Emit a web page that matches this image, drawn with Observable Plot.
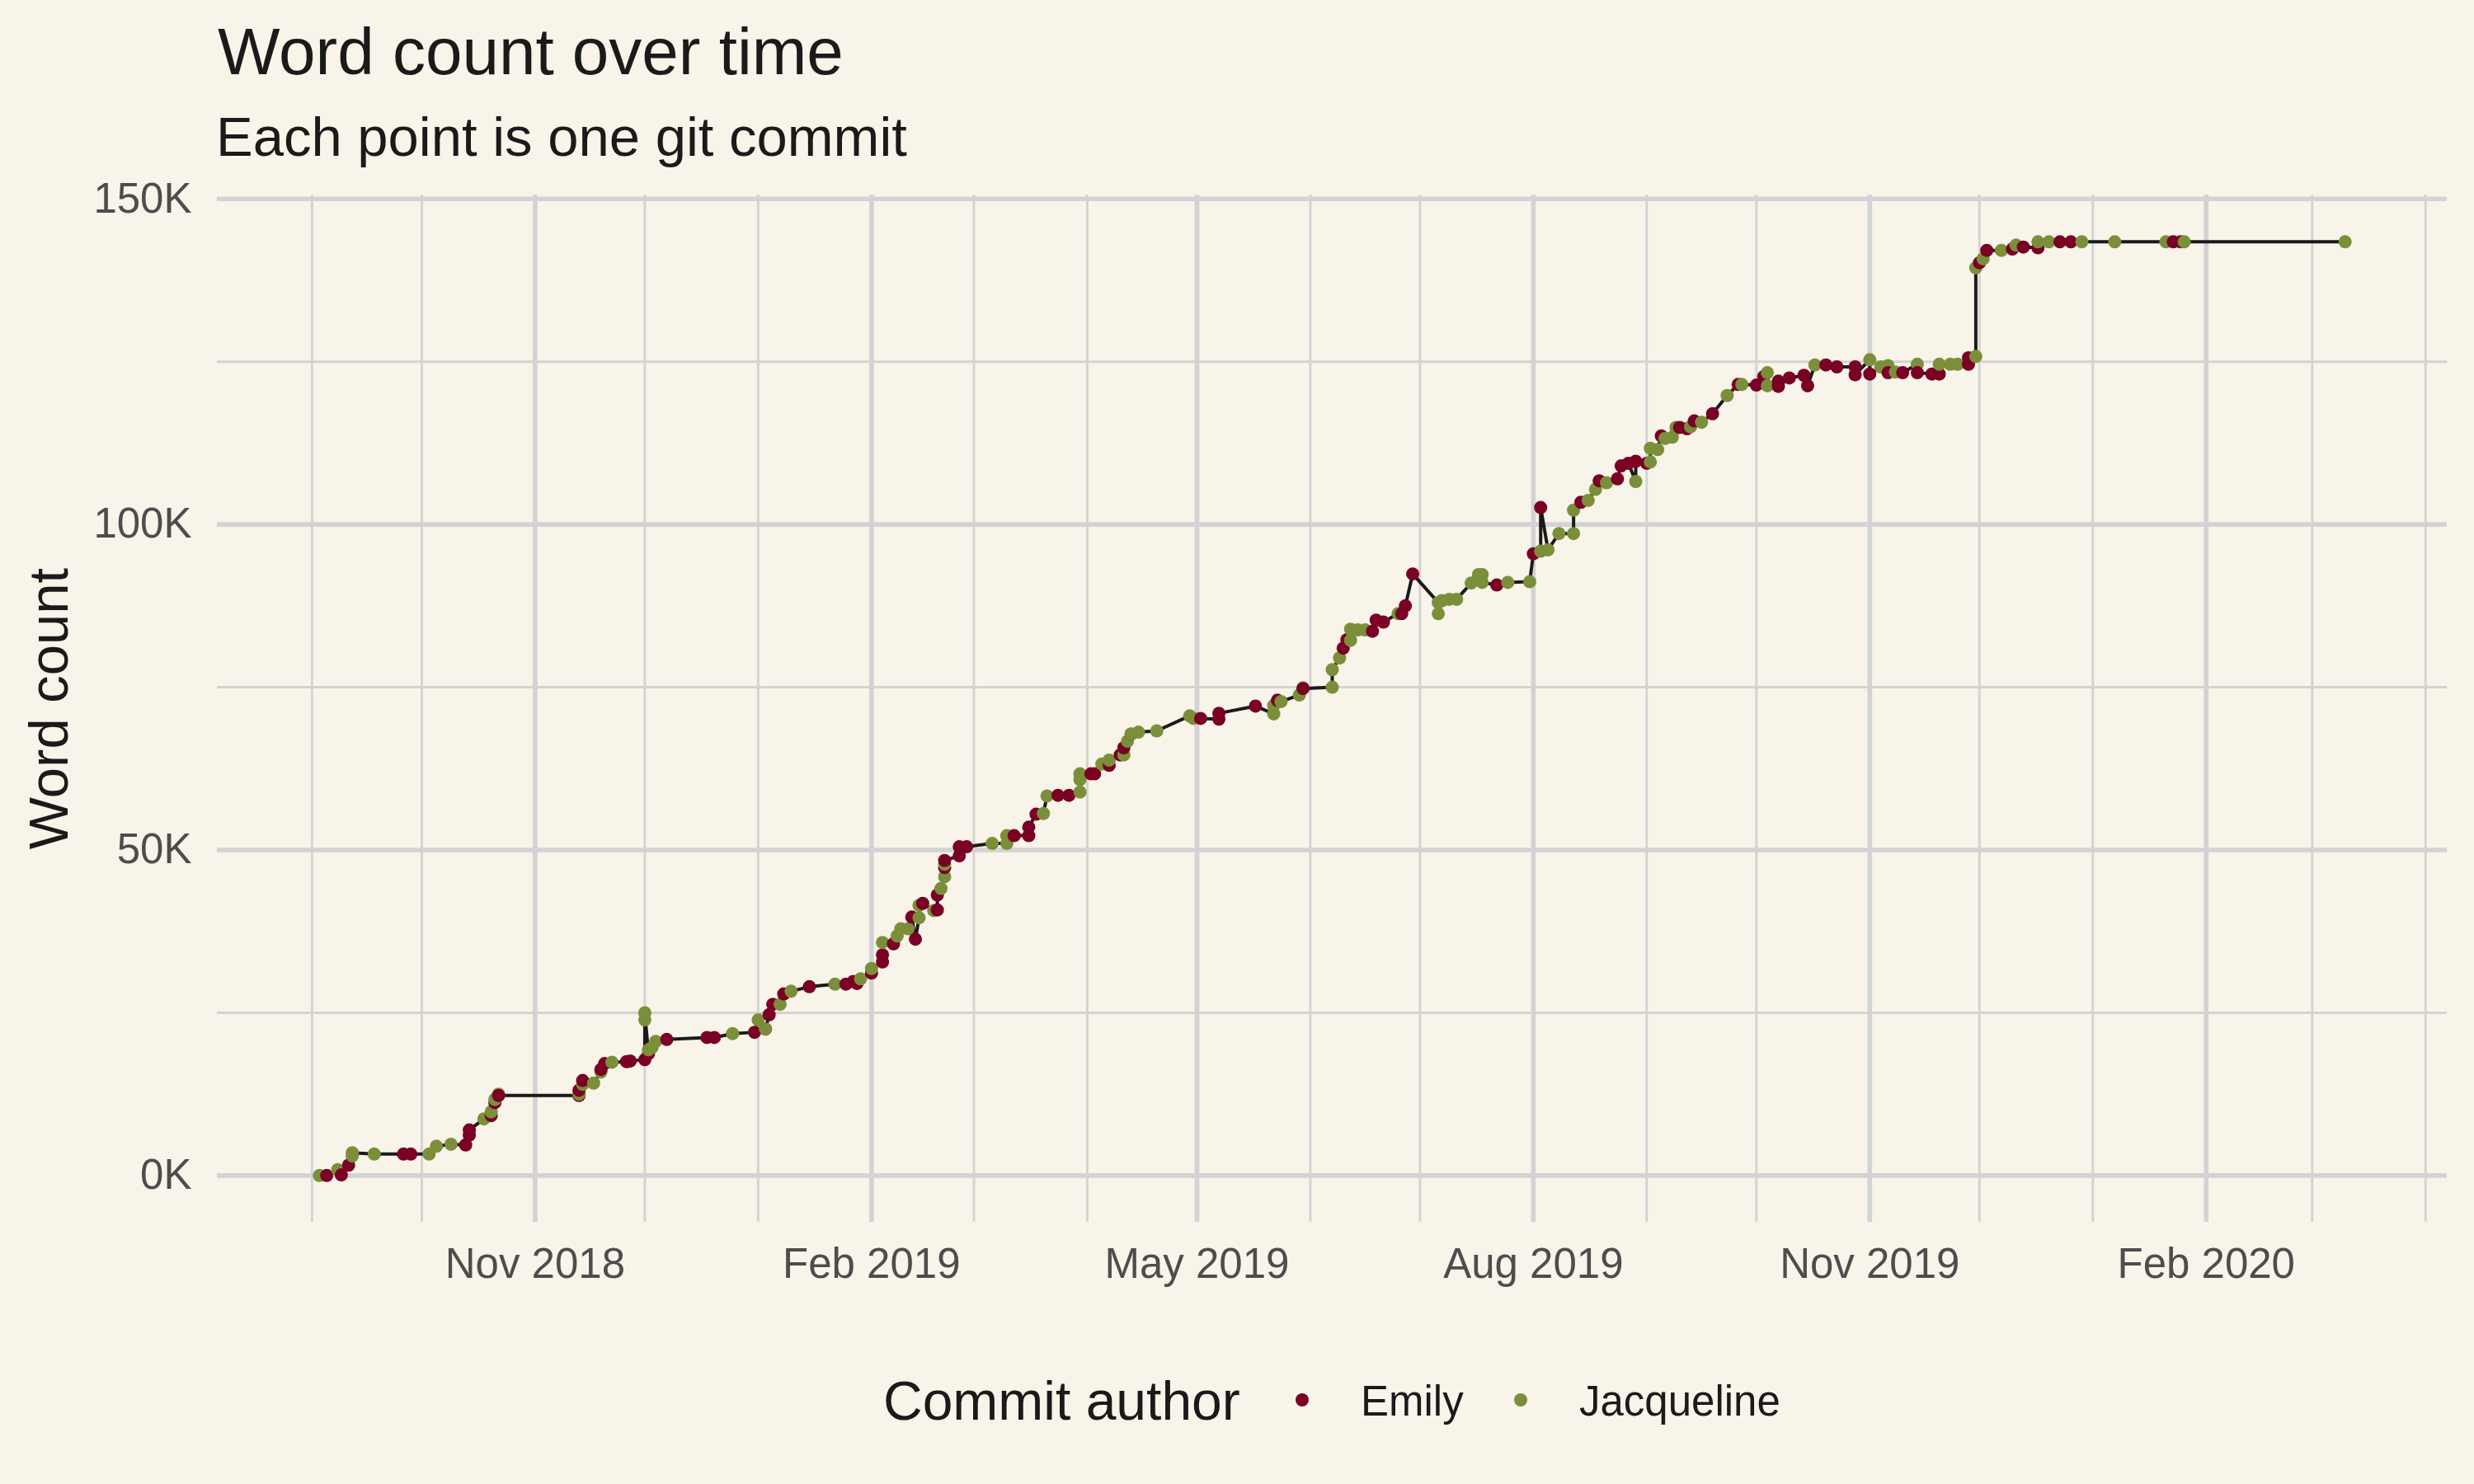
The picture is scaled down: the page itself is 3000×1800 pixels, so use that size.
<!DOCTYPE html>
<html>
<head>
<meta charset="utf-8">
<script src="https://cdn.jsdelivr.net/npm/d3@7"></script>
<script src="https://cdn.jsdelivr.net/npm/@observablehq/plot@0.6"></script>
<style>
  html, body { margin: 0; padding: 0; background: #F8F4EA; }
  #root { position: relative; width: 3000px; height: 1800px; background: #F8F4EA;
          font-family: "Liberation Sans", Arial, sans-serif; overflow: hidden; }
  #header { position: relative; width: 3000px; height: 200px; }
  .title { position: absolute; left: 264px; top: 23px; font-size: 80px; line-height: 80px;
           color: #1A1A1A; white-space: nowrap; }
  .subtitle { position: absolute; left: 262px; top: 132px; font-size: 67px; line-height: 67px;
              color: #1A1A1A; white-space: nowrap; }
  #chart, #legend { display: block; width: 3000px; }
  #chart svg, #legend svg { display: block; }
</style>
</head>
<body>
<div id="root">
  <div id="header">
    <div class="title">Word count over time</div>
    <div class="subtitle">Each point is one git commit</div>
  </div>
  <div id="chart"></div>
  <div id="legend"></div>
</div>
<script>
// ---- data (one entry per git commit, in commit order) ----
const commitDates = [
  "2018-09-03","2018-09-05","2018-09-08","2018-09-09","2018-09-11","2018-09-12","2018-09-12","2018-09-18","2018-09-26","2018-09-28",
  "2018-10-03","2018-10-05","2018-10-09","2018-10-13","2018-10-14","2018-10-14","2018-10-18","2018-10-20","2018-10-20","2018-10-21",
  "2018-10-21","2018-10-22","2018-10-22","2018-11-13","2018-11-13","2018-11-13","2018-11-14","2018-11-14","2018-11-17","2018-11-19",
  "2018-11-19","2018-11-20","2018-11-22","2018-11-26","2018-11-27","2018-12-01","2018-12-01","2018-12-01","2018-12-02","2018-12-02",
  "2018-12-03","2018-12-04","2018-12-07","2018-12-18","2018-12-20","2018-12-25","2018-12-31","2019-01-01","2019-01-03","2019-01-03",
  "2019-01-04","2019-01-05","2019-01-07","2019-01-08","2019-01-10","2019-01-15","2019-01-22","2019-01-25","2019-01-27","2019-01-28",
  "2019-01-29","2019-02-01","2019-02-01","2019-02-04","2019-02-04","2019-02-04","2019-02-07","2019-02-08","2019-02-09","2019-02-11",
  "2019-02-12","2019-02-13","2019-02-14","2019-02-14","2019-02-15","2019-02-18","2019-02-19","2019-02-19","2019-02-20","2019-02-21",
  "2019-02-21","2019-02-21","2019-02-21","2019-02-25","2019-02-25","2019-02-27","2019-03-06","2019-03-10","2019-03-10","2019-03-12",
  "2019-03-16","2019-03-16","2019-03-18","2019-03-20","2019-03-21","2019-03-24","2019-03-27","2019-03-30","2019-03-30","2019-03-30",
  "2019-04-02","2019-04-03","2019-04-05","2019-04-07","2019-04-07","2019-04-10","2019-04-11","2019-04-11","2019-04-12","2019-04-13",
  "2019-04-13","2019-04-15","2019-04-20","2019-04-29","2019-04-30","2019-05-02","2019-05-07","2019-05-07","2019-05-17","2019-05-22",
  "2019-05-22","2019-05-23","2019-05-24","2019-05-29","2019-05-30","2019-05-30","2019-06-07","2019-06-07","2019-06-09","2019-06-10",
  "2019-06-11","2019-06-12","2019-06-12","2019-06-14","2019-06-16","2019-06-18","2019-06-19","2019-06-21","2019-06-25","2019-06-26",
  "2019-06-27","2019-06-29","2019-07-06","2019-07-06","2019-07-07","2019-07-09","2019-07-11","2019-07-15","2019-07-17","2019-07-18",
  "2019-07-18","2019-07-22","2019-07-25","2019-07-31","2019-08-01","2019-08-03","2019-08-03","2019-08-05","2019-08-08","2019-08-12",
  "2019-08-12","2019-08-14","2019-08-16","2019-08-18","2019-08-19","2019-08-21","2019-08-24","2019-08-25","2019-08-27","2019-08-29",
  "2019-08-29","2019-09-01","2019-09-02","2019-09-02","2019-09-04","2019-09-05","2019-09-06","2019-09-08","2019-09-09","2019-09-10",
  "2019-09-12","2019-09-13","2019-09-14","2019-09-16","2019-09-19","2019-09-23","2019-09-26","2019-09-27","2019-10-01","2019-10-03",
  "2019-10-04","2019-10-04","2019-10-07","2019-10-07","2019-10-10","2019-10-14","2019-10-15","2019-10-17","2019-10-20","2019-10-23",
  "2019-10-28","2019-10-28","2019-11-01","2019-11-01","2019-11-04","2019-11-06","2019-11-06","2019-11-08","2019-11-10","2019-11-14",
  "2019-11-14","2019-11-18","2019-11-20","2019-11-20","2019-11-23","2019-11-25","2019-11-28","2019-11-28","2019-11-30","2019-11-30",
  "2019-12-01","2019-12-02","2019-12-03","2019-12-07","2019-12-10","2019-12-11","2019-12-13","2019-12-17","2019-12-17","2019-12-20",
  "2019-12-23","2019-12-26","2019-12-29","2020-01-07","2020-01-21","2020-01-23","2020-01-25","2020-01-26","2020-03-10"
];
// word count in thousands
const wordCountsK = [
  0.0, 0.0, 0.9, 0.1, 1.6, 3.0, 3.5, 3.3, 3.3, 3.3,
  3.3, 4.5, 4.8, 4.7, 6.2, 7.0, 8.7, 9.2, 9.8, 11.2,
  11.7, 12.5, 12.3, 12.3, 12.5, 13.1, 14.0, 14.6, 14.2, 15.9,
  16.3, 17.2, 17.4, 17.5, 17.6, 17.8, 23.9, 25.0, 18.7, 19.3,
  19.7, 20.6, 20.9, 21.2, 21.2, 21.8, 22.0, 23.9, 22.5, 22.5,
  24.7, 26.3, 26.3, 27.9, 28.3, 29.0, 29.4, 29.4, 29.8, 29.5,
  30.2, 31.1, 31.8, 32.8, 33.9, 35.8, 35.6, 36.8, 37.9, 37.9,
  39.7, 36.3, 39.6, 41.5, 41.8, 40.7, 40.8, 43.1, 44.1, 45.9,
  47.3, 47.8, 48.4, 49.1, 50.5, 50.5, 51.0, 51.0, 52.2, 52.2,
  52.2, 53.5, 55.5, 55.6, 58.3, 58.4, 58.4, 58.9, 60.8, 61.7,
  61.7, 61.7, 63.2, 63.0, 63.8, 64.6, 64.6, 65.7, 66.7, 67.8,
  67.8, 68.1, 68.3, 70.6, 70.2, 70.2, 70.1, 71.0, 72.1, 70.9,
  72.2, 73.0, 72.8, 73.8, 74.9, 74.8, 75.0, 77.7, 79.5, 81.0,
  82.3, 82.2, 83.9, 83.8, 83.8, 83.6, 85.3, 85.0, 86.3, 86.3,
  87.5, 92.4, 88.0, 86.3, 88.3, 88.5, 88.5, 91.0, 92.3, 92.3,
  91.1, 90.7, 91.1, 91.2, 95.5, 95.9, 102.6, 96.1, 98.6, 98.6,
  102.2, 103.4, 103.7, 105.4, 106.7, 106.4, 107.0, 109.0, 109.4, 106.6,
  109.7, 109.4, 109.6, 111.7, 111.5, 113.6, 113.2, 113.4, 114.9, 114.9,
  114.7, 115.0, 115.9, 115.7, 117.0, 119.8, 121.5, 121.5, 121.4, 122.7,
  123.3, 121.3, 122.0, 121.2, 122.5, 122.9, 121.3, 124.5, 124.5, 124.2,
  124.2, 123.0, 125.3, 123.1, 124.2, 124.4, 123.3, 123.4, 123.3, 124.6,
  123.3, 123.1, 123.1, 124.6, 124.6, 124.6, 124.6, 125.6, 125.8, 139.4,
  140.2, 140.8, 142.1, 142.1, 142.3, 142.9, 142.6, 142.5, 143.4, 143.4,
  143.4, 143.4, 143.4, 143.4, 143.4, 143.4, 143.4, 143.4, 143.4
];
// E = Emily, J = Jacqueline
const commitAuthors = [
  "J","E","J","E","E","J","J","J","E","E",
  "J","J","J","E","E","E","J","E","J","E",
  "J","J","E","E","J","E","J","E","J","J",
  "E","E","J","E","E","E","J","J","E","J",
  "J","J","E","E","E","J","E","J","E","J",
  "E","E","J","E","J","E","J","E","E","E",
  "J","E","J","E","E","J","E","J","J","J",
  "E","E","J","J","E","J","E","E","J","J",
  "E","J","E","E","E","E","J","J","J","E",
  "E","E","E","J","J","E","E","J","J","J",
  "E","E","J","E","J","E","J","E","J","E",
  "J","J","J","J","J","E","E","E","E","J",
  "J","E","J","J","J","E","J","J","J","E",
  "E","J","J","J","J","E","E","E","J","E",
  "E","E","J","J","J","J","J","J","J","J",
  "J","E","J","J","E","J","E","J","J","J",
  "J","E","J","J","E","J","E","E","E","J",
  "E","E","J","J","J","E","J","J","J","E",
  "E","J","E","J","E","J","E","J","E","E",
  "J","J","E","E","E","E","E","J","E","E",
  "E","E","J","E","J","J","E","J","E","J",
  "E","E","E","J","J","J","E","E","J","J",
  "E","J","E","J","E","J","E","E","J","J",
  "E","E","J","J","J","E","E","J","J"
];
const authorCodes = ["E", "J"];
const authorNames = ["Emily", "Jacqueline"];
const authorColors = ["#7A0026", "#7B8F3B"];

const majorXTicks = ["2018-11-01", "2019-02-01", "2019-05-01", "2019-08-01", "2019-11-01", "2020-02-01"];
const minorXTicks = ["2018-09-01", "2018-10-01", "2018-12-01", "2019-01-01", "2019-03-01", "2019-04-01",
                     "2019-06-01", "2019-07-01", "2019-09-01", "2019-10-01", "2019-12-01", "2020-01-01",
                     "2020-03-01", "2020-04-01"];
const majorYTicks = [0, 50, 100, 150];
const minorYTicks = [25, 75, 125];

// ---- build ----
const parse = d3.utcParse("%Y-%m-%d");
const nameOf = Object.fromEntries(authorCodes.map((c, i) => [c, authorNames[i]]));
const data = commitDates.map((d, i) => ({
  date: parse(d),
  words: wordCountsK[i],
  author: nameOf[commitAuthors[i]]
}));

const BG = "#F8F4EA";
const GRID = "#D3D3D3";
const FONT = '"Liberation Sans", Arial, sans-serif';

const chart = Plot.plot({
  width: 3000,
  height: 1400,
  marginTop: 36,
  marginBottom: 118,
  marginLeft: 263,
  marginRight: 33,
  style: { background: BG, fontFamily: FONT, fontSize: "51px", color: "#4D4D4D" },
  x: { type: "utc", domain: [new Date("2018-08-06T02:00:00Z"), new Date("2020-04-06T22:00:00Z")] },
  y: { domain: [-7.17, 150.6] },
  color: { domain: authorNames, range: authorColors },
  marks: [
    Plot.gridX({ ticks: minorXTicks.map(parse), stroke: GRID, strokeOpacity: 1, strokeWidth: 2.9 }),
    Plot.gridY({ ticks: minorYTicks, stroke: GRID, strokeOpacity: 1, strokeWidth: 2.9 }),
    Plot.gridX({ ticks: majorXTicks.map(parse), stroke: GRID, strokeOpacity: 1, strokeWidth: 5.7 }),
    Plot.gridY({ ticks: majorYTicks, stroke: GRID, strokeOpacity: 1, strokeWidth: 5.7 }),
    Plot.axisX({ ticks: majorXTicks.map(parse), tickFormat: d3.utcFormat("%b %Y"), tickSize: 0,
                 tickPadding: 31, fontSize: 51, color: "#4D4D4D", label: null }),
    Plot.axisY({ ticks: majorYTicks, tickFormat: d => `${d}K`, tickSize: 0,
                 tickPadding: 31, fontSize: 51, color: "#4D4D4D", label: null }),
    Plot.line(data, { x: "date", y: "words", stroke: "#1A1A1A", strokeWidth: 4 }),
    Plot.dot(data, { x: "date", y: "words", fill: "author", r: 8 }),
    Plot.text(["Word count"], { frameAnchor: "left", textAnchor: "middle", rotate: -90, dx: -182,
                                lineAnchor: "bottom", fontSize: 67, fill: "#1A1A1A" })
  ]
});
document.getElementById("chart").appendChild(chart);

// ---- legend ----
const leg = d3.select("#legend").append("svg")
  .attr("width", 3000).attr("height", 200)
  .style("background", BG)
  .style("font-family", FONT);
leg.append("text").attr("x", 1071).attr("y", 122)
  .attr("font-size", 66).attr("fill", "#1A1A1A").text("Commit author");
const legendDotX = [1579, 1844];
const legendTextX = [1650, 1915];
authorNames.forEach((name, i) => {
  leg.append("circle").attr("cx", legendDotX[i]).attr("cy", 98).attr("r", 8).attr("fill", authorColors[i]);
  leg.append("text").attr("x", legendTextX[i]).attr("y", 117)
    .attr("font-size", 51).attr("fill", "#1A1A1A").text(name);
});
</script>
</body>
</html>
